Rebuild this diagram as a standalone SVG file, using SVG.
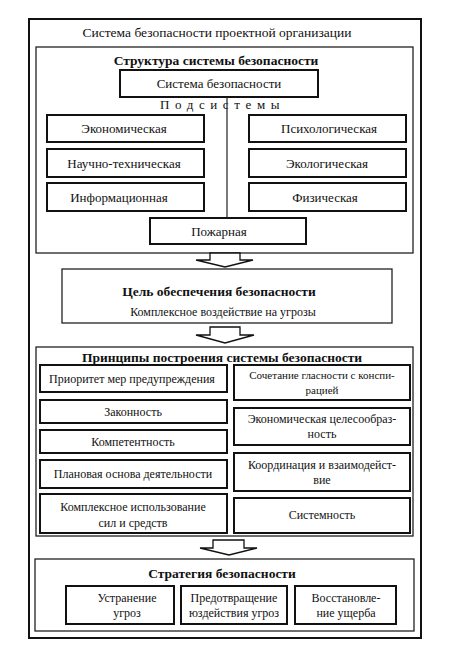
<svg xmlns="http://www.w3.org/2000/svg" width="451" height="648" viewBox="0 0 451 648">
<style>
text{font-family:"Liberation Serif","Times New Roman",serif;fill:#111;text-anchor:middle}
.t{font-size:13.5px}
.b{font-size:13.5px;font-weight:bold}
.n{font-size:13px}
.s{font-size:12px}
.frame{fill:#fff;stroke:#111;stroke-width:2}
.cont{fill:none;stroke:#222;stroke-width:1.3}
.box{fill:#fff;stroke:#111;stroke-width:2}
.arr{fill:#fff;stroke:#111;stroke-width:1.3}
</style>
<rect width="451" height="648" fill="#fff"/>
<g id="outer">
<rect class="frame" x="29" y="19" width="392" height="619"/>
<text class="t" x="217" y="37">Система безопасности проектной организации</text>
</g>
<g id="structure">
<rect class="cont" x="36" y="47" width="377" height="206"/>
<text class="b" x="216" y="65">Структура системы безопасности</text>
</g>
<g id="n-system">
<rect class="box" x="120" y="70" width="198" height="27"/>
<text class="n" x="219" y="88">Система безопасности</text>
</g>
<g id="subsystems-label">
<text class="n" x="160" y="109" style="text-anchor:start;letter-spacing:5.6px">Подсистемы</text>
</g>
<g id="n-econ"><rect class="box" x="47" y="115" width="157" height="27"/><text class="n" x="124" y="133">Экономическая</text></g>
<g id="n-sci"><rect class="box" x="47" y="149" width="157" height="28"/><text class="n" x="124" y="168">Научно-техническая</text></g>
<g id="n-info"><rect class="box" x="47" y="183" width="157" height="28"/><text class="n" x="119" y="202">Информационная</text></g>
<g id="n-psych"><rect class="box" x="249" y="115" width="157" height="27"/><text class="n" x="329" y="133">Психологическая</text></g>
<g id="n-eco"><rect class="box" x="249" y="149" width="157" height="28"/><text class="n" x="327" y="168">Экологическая</text></g>
<g id="n-phys"><rect class="box" x="249" y="183" width="157" height="28"/><text class="n" x="325" y="202">Физическая</text></g>
<g id="n-fire"><rect class="box" x="150" y="218" width="156" height="26"/><text class="n" x="219" y="236">Пожарная</text></g>
<g id="n-goal">
<rect class="cont" x="62" y="269" width="330" height="54"/>
<text class="b" x="219" y="296">Цель обеспечения безопасности</text>
<text class="s" x="223" y="316">Комплексное воздействие на угрозы</text>
</g>
<g id="principles">
<rect class="cont" x="36" y="347" width="377" height="189"/>
<text class="b" x="222" y="362">Принципы построения системы безопасности</text>
</g>
<g id="p1"><rect class="box" x="40" y="365" width="187" height="27"/><text class="s" x="132" y="383">Приоритет мер предупреждения</text></g>
<g id="p2"><rect class="box" x="40" y="400" width="187" height="23"/><text class="s" x="133" y="416">Законность</text></g>
<g id="p3"><rect class="box" x="40" y="430" width="187" height="23"/><text class="s" x="133" y="446">Компетентность</text></g>
<g id="p4"><rect class="box" x="40" y="460" width="187" height="28"/><text class="s" x="133" y="478">Плановая основа деятельности</text></g>
<g id="p5"><rect class="box" x="40" y="494" width="187" height="39"/><text class="s" x="133" y="511">Комплексное использование</text><text class="s" x="133" y="527">сил и средств</text></g>
<g id="p6"><rect class="box" x="234" y="365" width="176" height="35"/><text class="s" x="322" y="379" style="font-size:11px">Сочетание гласности с конспи-</text><text class="s" x="322" y="394" style="font-size:11px">рацией</text></g>
<g id="p7"><rect class="box" x="234" y="408" width="176" height="37"/><text class="s" x="322" y="423">Экономическая целесообраз-</text><text class="s" x="322" y="438">ность</text></g>
<g id="p8"><rect class="box" x="234" y="453" width="176" height="38"/><text class="s" x="322" y="469">Координация и взаимодейст-</text><text class="s" x="322" y="484">вие</text></g>
<g id="p9"><rect class="box" x="234" y="498" width="176" height="35"/><text class="s" x="322" y="519">Системность</text></g>
<g id="strategy">
<rect class="cont" x="35" y="559" width="379" height="72"/>
<text class="b" x="222" y="578">Стратегия безопасности</text>
</g>
<g id="s1"><rect class="box" x="66" y="586" width="108" height="38"/><text class="s" x="127" y="602">Устранение</text><text class="s" x="127" y="617">угроз</text></g>
<g id="s2"><rect class="box" x="181" y="586" width="106" height="38"/><text class="s" x="234" y="602">Предотвращение</text><text class="s" x="234" y="617">юздействия угроз</text></g>
<g id="s3"><rect class="box" x="295" y="586" width="101" height="38"/><text class="s" x="346" y="602">Восстановле-</text><text class="s" x="346" y="617">ние ущерба</text></g>
<g id="connectors">
<line x1="227" y1="97" x2="227" y2="218" stroke="#222" stroke-width="1.2"/>
<polygon class="arr" points="210,253 240,253 240,260 253,260 225,267 196,260 210,260"/>
<polygon class="arr" points="210,327 240,327 240,335 254,335 225,343 196,335 210,335"/>
<polygon class="arr" points="213,540 244,540 244,548 257,548 229,555 200,548 213,548"/>
</g>
</svg>
